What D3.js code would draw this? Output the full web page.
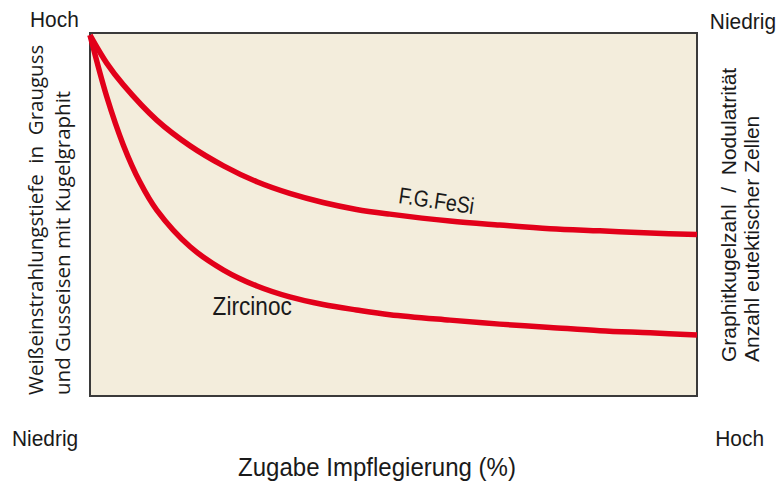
<!DOCTYPE html>
<html>
<head>
<meta charset="utf-8">
<script src="https://cdn.jsdelivr.net/npm/d3@7"></script>
<style>
    body { margin: 0; background: #fff; }
    .lbl { font-family: "Liberation Sans", Arial, sans-serif; fill: #1a1a1a; }
</style>
</head>
<body>
<div id="chart"></div>
<script>
// Zugabe Impflegierung (%), relative 0..100
var feSiX = [0, 2.75, 5.5, 11.0, 16.5, 22.0, 27.5, 32.9, 38.4, 43.9, 49.4, 59.3, 67.5, 75.8, 84.0, 92.3, 100];
// Weißeinstrahlungstiefe, relative 0..100 (100 = Hoch)
var feSiY = [99.4, 91.7, 85.7, 76.0, 68.9, 63.4, 59.0, 55.8, 53.3, 51.4, 50.1, 48.2, 47.1, 46.1, 45.5, 44.9, 44.5];

var zircX = [0, 2.75, 5.5, 8.2, 11.0, 16.5, 22.0, 27.5, 32.9, 38.4, 43.9, 49.4, 59.3, 67.5, 75.8, 84.0, 92.3, 100];
var zircY = [99.4, 82.5, 69.1, 59.0, 51.2, 41.1, 34.7, 30.3, 27.3, 25.2, 23.7, 22.4, 20.9, 19.8, 18.9, 18.0, 17.4, 16.8];

var seriesNames = ["F.G.FeSi", "Zircinoc"];
var axisEnds = { leftTop: "Hoch", rightTop: "Niedrig", leftBottom: "Niedrig", rightBottom: "Hoch" };
var xTitle = "Zugabe Impflegierung (%)";
var yTitleLeft = ["Weißeinstrahlungstiefe  in  Grauguss", "und Gusseisen mit Kugelgraphit"];
var yTitleRight = ["Graphitkugelzahl  /  Nodulatrität", "Anzahl eutektischer Zellen"];

var red = "#e2001a";

var margin = { top: 33, right: 87, bottom: 87, left: 90 };
var totalW = 784, totalH = 483;
var width = totalW - margin.left - margin.right;
var height = totalH - margin.top - margin.bottom;

var svg = d3.select("#chart").append("svg")
    .attr("width", totalW)
    .attr("height", totalH);

var g = svg.append("g")
    .attr("transform", "translate(" + margin.left + "," + margin.top + ")");

var x = d3.scaleLinear().domain([0, 100]).range([0, width]);
var y = d3.scaleLinear().domain([0, 100]).range([height, 0]);

// plot area
g.append("rect")
    .attr("x", x(0))
    .attr("y", y(100))
    .attr("width", x(100) - x(0))
    .attr("height", y(0) - y(100))
    .attr("fill", "#f3eddc")
    .attr("stroke", "#3a3a3a")
    .attr("stroke-width", 2);

var line = d3.line()
    .curve(d3.curveCatmullRom.alpha(0.5))
    .x(function(d) { return x(d[0]); })
    .y(function(d) { return y(d[1]); });

[d3.zip(feSiX, feSiY), d3.zip(zircX, zircY)].forEach(function(pts) {
    g.append("path")
        .datum(pts)
        .attr("fill", "none")
        .attr("stroke", red)
        .attr("stroke-width", 5.5)
        .attr("d", line);
});

// condensed-looking label: regular font squeezed horizontally
function label(parent, txt, px, py, size, sx, anchor, rot) {
    return parent.append("text")
        .attr("class", "lbl")
        .attr("transform", "translate(" + px + "," + py + ") rotate(" + (rot || 0) + ") scale(" + sx + ",1)")
        .attr("text-anchor", anchor || "start")
        .attr("font-size", size)
        .text(txt);
}

// curve labels
label(g, seriesNames[0], x(50.7), y(53.2), 23, 0.85, "start", 8.5);
label(g, seriesNames[1], x(20.2), y(22.3), 26, 0.87, "start");

// end labels
label(svg, axisEnds.leftTop, 30, 27, 22, 0.95, "start");
label(svg, axisEnds.rightTop, 776, 29, 22, 0.95, "end");
label(svg, axisEnds.leftBottom, 12, 446, 22, 0.95, "start");
label(svg, axisEnds.rightBottom, 764, 446, 22, 0.95, "end");

// x title
label(svg, xTitle, 377, 476, 26, 0.925, "middle");

// left y title
yTitleLeft.forEach(function(t, i) {
    svg.append("text")
        .attr("transform", "translate(" + (43 + i * 27) + ",395) rotate(-90)")
        .attr("font-family", "'Open Sans', sans-serif")
        .attr("font-size", 20.5)
        .attr("fill", "#1a1a1a")
        .style("white-space", "pre")
        .text(t);
});

// right y title
yTitleRight.forEach(function(t, i) {
    svg.append("text")
        .attr("transform", "translate(" + (736 + i * 23) + ",362) rotate(-90)")
        .attr("font-family", "'Liberation Sans', Arial, sans-serif")
        .attr("font-size", 21)
        .attr("fill", "#1a1a1a")
        .style("white-space", "pre")
        .text(t);
});
</script>
</body>
</html>
